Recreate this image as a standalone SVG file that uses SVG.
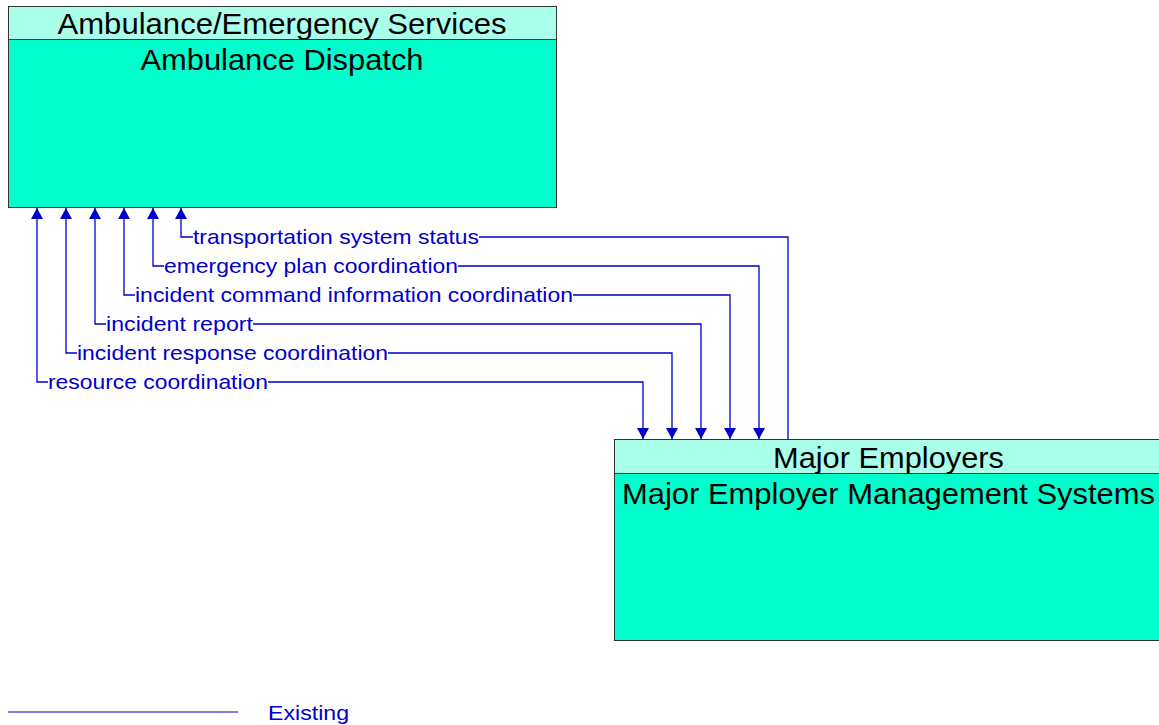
<svg xmlns="http://www.w3.org/2000/svg" width="1159" height="725" viewBox="0 0 1159 725">
<style>
.hdr{fill:#aaffea;stroke:#333;stroke-width:1}
.body{fill:#00ffcc;stroke:#333;stroke-width:1}
.title{font-family:"Liberation Sans",Arial,sans-serif;font-size:30px;fill:#000;text-anchor:middle}
.lbl{font-family:"Liberation Sans",Arial,sans-serif;font-size:21px;fill:#0000cc}
.flow{fill:none;stroke:#0000cc;stroke-width:1.3}
</style>
<defs>
<marker id="ah" markerWidth="11" markerHeight="12" refX="11" refY="6" orient="auto-start-reverse" markerUnits="userSpaceOnUse" viewBox="0 0 11 12">
<path d="M0,0 L11,6 L0,12 Z" fill="#0000cc"/>
</marker>
</defs>
<rect width="1159" height="725" fill="#fff"/>
<g id="ambulance-dispatch">
<rect class="body" x="8.5" y="6.5" width="548" height="201"/>
<rect class="hdr" x="8.5" y="6.5" width="548" height="33"/>
<text class="title" x="282" y="34" textLength="449" lengthAdjust="spacingAndGlyphs">Ambulance/Emergency Services</text>
<text class="title" x="282" y="70" textLength="283" lengthAdjust="spacingAndGlyphs">Ambulance Dispatch</text>
</g>
<g id="major-employer-management-systems">
<rect class="body" x="614.5" y="439.5" width="545" height="201"/>
<rect class="hdr" x="614.5" y="439.5" width="545" height="34"/>
<text class="title" x="888.5" y="468" textLength="231" lengthAdjust="spacingAndGlyphs">Major Employers</text>
<text class="title" x="888.5" y="504" textLength="533" lengthAdjust="spacingAndGlyphs">Major Employer Management Systems</text>
</g>
<g id="connectors">
<path class="flow" d="M181,208 V237 H193 M479,237 H788 V439" marker-start="url(#ah)"/>
<path class="flow" d="M153,208 V266 H164 M458,266 H759 V439" marker-start="url(#ah)" marker-end="url(#ah)"/>
<path class="flow" d="M124,208 V295 H135 M573,295 H730 V439" marker-start="url(#ah)" marker-end="url(#ah)"/>
<path class="flow" d="M95,208 V324 H106 M253,324 H701 V439" marker-start="url(#ah)" marker-end="url(#ah)"/>
<path class="flow" d="M66,208 V353 H77 M388,353 H672 V439" marker-start="url(#ah)" marker-end="url(#ah)"/>
<path class="flow" d="M37,208 V382 H48 M268,382 H643 V439" marker-start="url(#ah)" marker-end="url(#ah)"/>
<text class="lbl" x="193" y="244" textLength="286" lengthAdjust="spacingAndGlyphs">transportation system status</text>
<text class="lbl" x="164" y="273" textLength="294" lengthAdjust="spacingAndGlyphs">emergency plan coordination</text>
<text class="lbl" x="135" y="302" textLength="438" lengthAdjust="spacingAndGlyphs">incident command information coordination</text>
<text class="lbl" x="106" y="331" textLength="147" lengthAdjust="spacingAndGlyphs">incident report</text>
<text class="lbl" x="77" y="360" textLength="311" lengthAdjust="spacingAndGlyphs">incident response coordination</text>
<text class="lbl" x="48" y="389" textLength="220" lengthAdjust="spacingAndGlyphs">resource coordination</text>
</g>
<g id="legend">
<line x1="8" y1="712" x2="238" y2="712" stroke="#5555cc" stroke-width="1.5"/>
<text class="lbl" x="268" y="720" textLength="81" lengthAdjust="spacingAndGlyphs">Existing</text>
</g>
</svg>
